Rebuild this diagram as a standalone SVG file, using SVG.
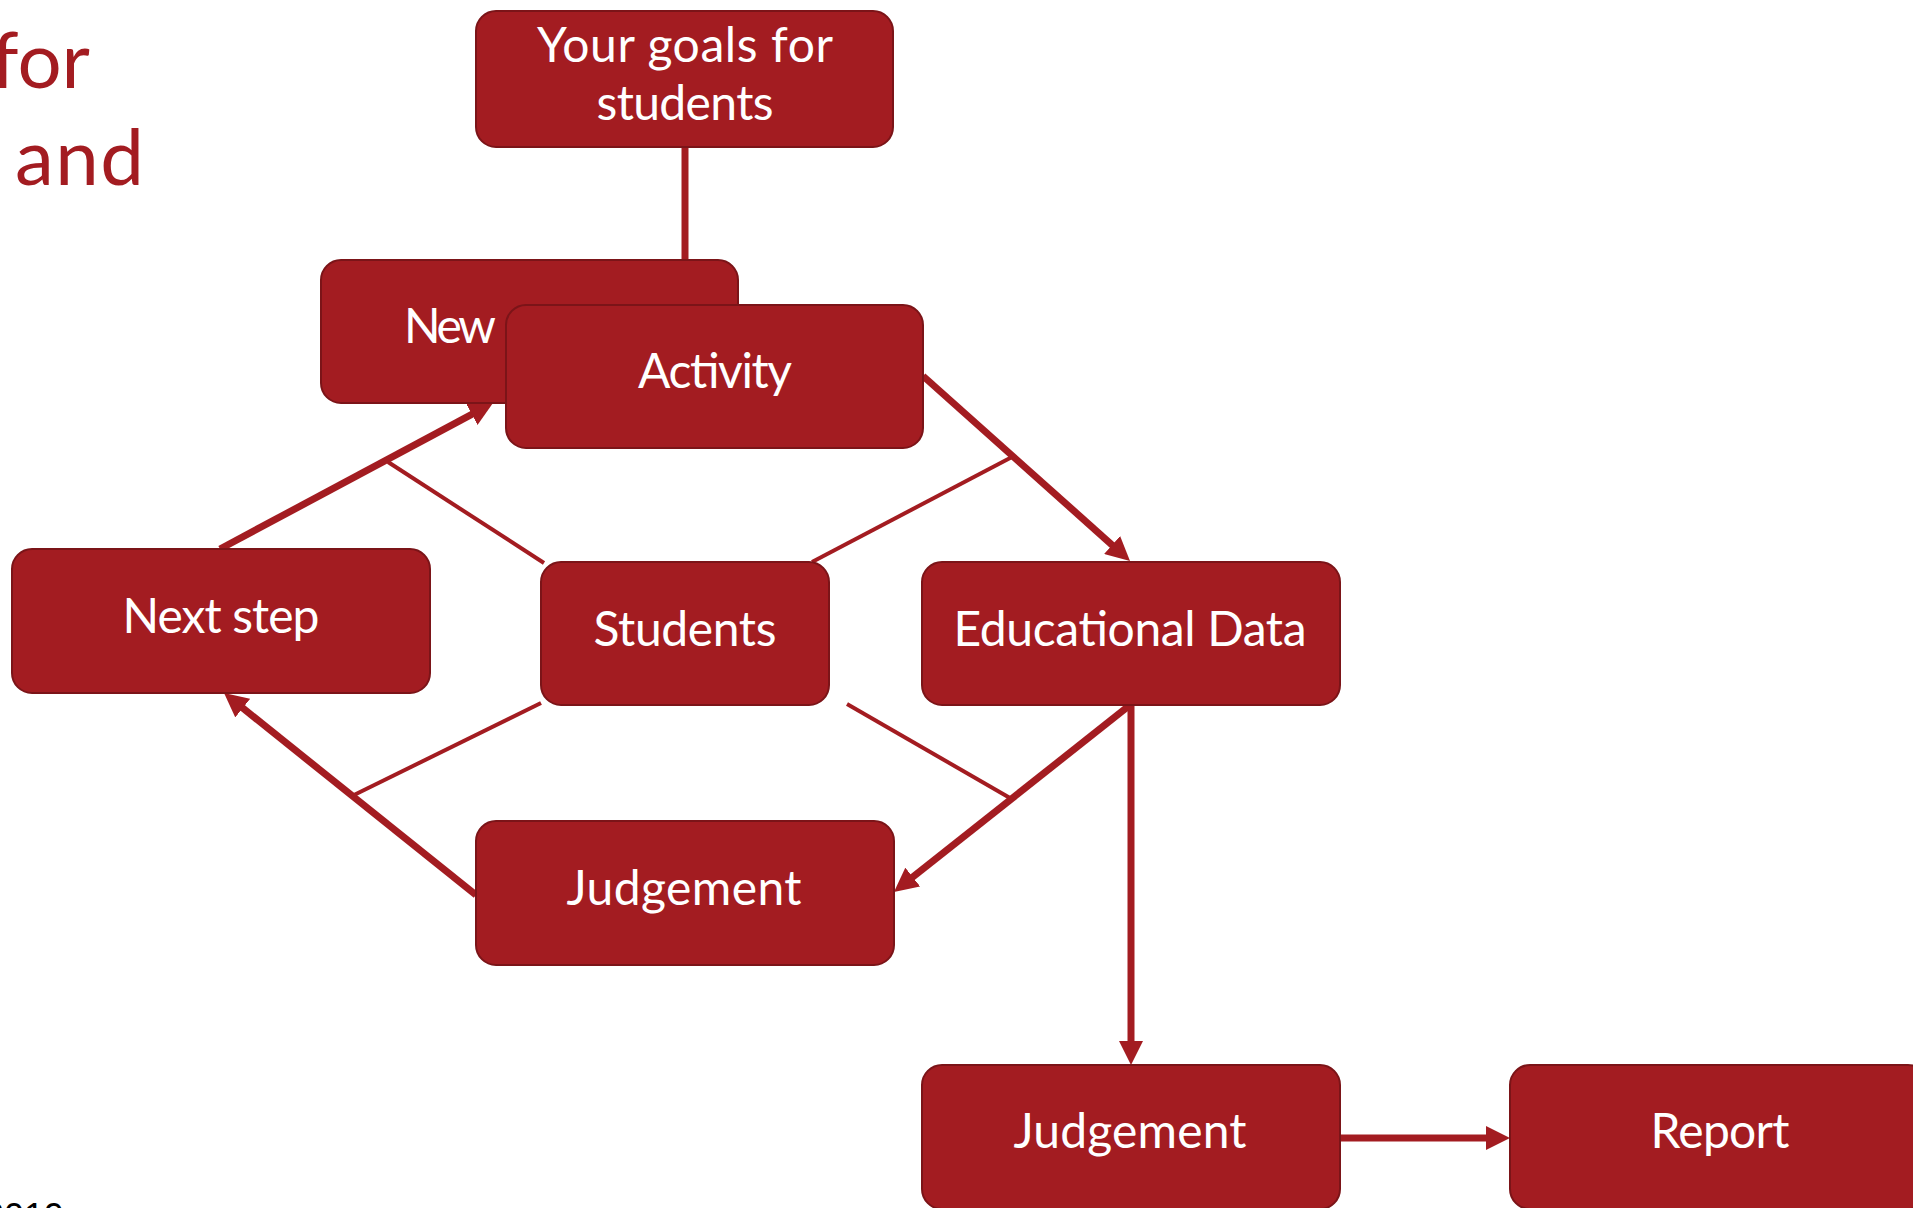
<svg xmlns="http://www.w3.org/2000/svg" width="1913" height="1208" viewBox="0 0 1913 1208">
<style>
.box{fill:#A31C21;stroke:#7B1418;stroke-width:2}
.lbl{font-family:Lato,"Open Sans","Liberation Sans",sans-serif;font-size:48px;fill:#FFFFFF;text-anchor:middle}
.title{font-family:Lato,"Open Sans","Liberation Sans",sans-serif;font-size:78px;fill:#A31C21}
.thick{stroke:#A31C21;stroke-width:7;fill:none}
.thin{stroke:#A31C21;stroke-width:4;fill:none}
.arr{marker-end:url(#ah)}
</style>
<defs>
<marker id="ah" markerUnits="userSpaceOnUse" markerWidth="24" markerHeight="24" viewBox="0 0 24 24" refX="2" refY="12" orient="auto">
<path d="M0,0 L24,12 L0,24 Z" fill="#A31C21"/>
</marker>
</defs>
<rect width="1913" height="1208" fill="#FFFFFF"/>
<g id="title">
<text class="title" x="90" y="88" text-anchor="end">for</text>
<text class="title" x="15" y="185" textLength="129">and</text>
<text x="-16" y="1229" font-family="'Liberation Sans',sans-serif" font-size="36" fill="#000000">2019</text>
</g>
<g id="connectors">
<line class="thick" x1="685" y1="147" x2="685" y2="260"/>
<line class="thick arr" x1="220" y1="549" x2="473.6" y2="413.4"/>
<line class="thin" x1="388" y1="462" x2="544" y2="563"/>
<line class="thick arr" x1="923" y1="376" x2="1113.6" y2="546.3"/>
<line class="thin" x1="812" y1="562" x2="1012" y2="457"/>
<line class="thick arr" x1="1130" y1="705" x2="911.2" y2="878.3"/>
<line class="thin" x1="847" y1="704" x2="1010" y2="798"/>
<line class="thick arr" x1="1131" y1="705" x2="1131" y2="1043"/>
<line class="thick arr" x1="476" y1="895" x2="241.2" y2="706.8"/>
<line class="thin" x1="541" y1="703" x2="354" y2="795"/>
<line class="thick arr" x1="1340" y1="1138" x2="1488" y2="1138"/>
</g>
<g id="goals">
<rect class="box" x="476" y="11" width="417" height="136" rx="20"/>
<text class="lbl" x="685" y="62" textLength="296">Your goals for</text>
<text class="lbl" x="685" y="120" textLength="177">students</text>
</g>
<g id="new">
<rect class="box" x="321" y="260" width="417" height="143" rx="20"/>
<text class="lbl" x="404" y="343" textLength="92" style="text-anchor:start">New</text>
</g>
<g id="activity">
<rect class="box" x="506" y="305" width="417" height="143" rx="20"/>
<text class="lbl" x="715" y="388" textLength="154">Activity</text>
</g>
<g id="nextstep">
<rect class="box" x="12" y="549" width="418" height="144" rx="20"/>
<text class="lbl" x="221" y="633" textLength="197">Next step</text>
</g>
<g id="students">
<rect class="box" x="541" y="562" width="288" height="143" rx="20"/>
<text class="lbl" x="685" y="646" textLength="183">Students</text>
</g>
<g id="edudata">
<rect class="box" x="922" y="562" width="418" height="143" rx="20"/>
<text class="lbl" x="1130" y="646" textLength="353">Educational Data</text>
</g>
<g id="judgement1">
<rect class="box" x="476" y="821" width="418" height="144" rx="20"/>
<text class="lbl" x="684" y="905" textLength="235">Judgement</text>
</g>
<g id="judgement2">
<rect class="box" x="922" y="1065" width="418" height="144" rx="20"/>
<text class="lbl" x="1130" y="1148" textLength="233">Judgement</text>
</g>
<g id="report">
<rect class="box" x="1510" y="1065" width="418" height="144" rx="20"/>
<text class="lbl" x="1720" y="1148" textLength="139">Report</text>
</g>
</svg>
